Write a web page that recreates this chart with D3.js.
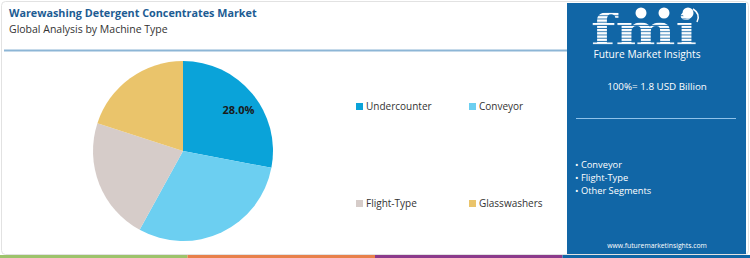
<!DOCTYPE html>
<html>
<head>
<meta charset="utf-8">
<script src="https://cdn.jsdelivr.net/npm/d3@7"></script>
<style>
  html, body { margin: 0; padding: 0; background: #fff; }
  svg { display: block; font-family: "Open Sans", sans-serif; }
</style>
</head>
<body>
<svg width="750" height="258"></svg>
<script>
// data
var segments = ['Undercounter', 'Conveyor', 'Flight-Type', 'Glasswashers'];
var shares = [28.0, 30.0, 22.0, 20.0];
var colors = ['#0aa3d9', '#6ccff1', '#d6ccc9', '#eac46b'];
var topSegments = ['Conveyor', 'Flight-Type', 'Other Segments'];
var marketSize = '100%= 1.8 USD Billion';

var svg = d3.select('svg');

// card + header
svg.append('rect').attr('x', 1.5).attr('y', 1.5).attr('width', 747).attr('height', 253)
  .attr('rx', 4).attr('fill', '#fff').attr('stroke', '#e2e2e2');

svg.append('text').attr('x', 9).attr('y', 17)
  .attr('font-size', 10.8).attr('font-weight', 700).attr('fill', '#1d5c93')
  .text('Warewashing Detergent Concentrates Market');
svg.append('text').attr('x', 9).attr('y', 33)
  .attr('font-size', 10.5).attr('fill', '#333')
  .text('Global Analysis by Machine Type');

svg.append('line').attr('x1', 4).attr('x2', 567).attr('y1', 50.5).attr('y2', 50.5)
  .attr('stroke', '#8db6d6').attr('stroke-width', 2);

// bottom stripe
var stripeColors = ['#9dc36b', '#e8804a', '#8b3a8b', '#1166a6'];
var sx = d3.scaleBand().domain(d3.range(4)).range([0, 750]);
svg.selectAll('rect.stripe').data(stripeColors).enter().append('rect')
  .attr('class', 'stripe')
  .attr('x', function(d, i) { return sx(i); })
  .attr('y', 255).attr('width', sx.bandwidth()).attr('height', 3)
  .attr('fill', function(d) { return d; });

// pie
var cx = 183, cy = 151, r = 90;
var pie = d3.pie().sort(null).value(function(d) { return d; });
var arc = d3.arc().innerRadius(0).outerRadius(r);
var labelArc = d3.arc().innerRadius(68).outerRadius(68);
var arcs = pie(shares);

var g = svg.append('g').attr('transform', 'translate(' + cx + ',' + cy + ')');
g.selectAll('path').data(arcs).enter().append('path')
  .attr('d', arc)
  .attr('fill', function(d, i) { return colors[i]; });

g.append('text')
  .attr('transform', 'translate(' + labelArc.centroid(arcs[0]) + ')')
  .attr('text-anchor', 'middle').attr('dx', 3).attr('dy', '0.6em')
  .attr('font-size', 11).attr('font-weight', 700).attr('fill', '#1a1a1a')
  .text(shares[0].toFixed(1) + '%');

// legend
var lx = d3.scaleOrdinal().domain([0, 1]).range([356, 469]);
var ly = d3.scaleOrdinal().domain([0, 1]).range([103, 200]);
var leg = svg.selectAll('g.leg').data(segments).enter().append('g')
  .attr('class', 'leg')
  .attr('transform', function(d, i) { return 'translate(' + lx(i % 2) + ',' + ly(Math.floor(i / 2)) + ')'; });
leg.append('rect').attr('width', 7).attr('height', 7)
  .attr('fill', function(d, i) { return colors[i]; });
leg.append('text').attr('x', 10).attr('y', 7.3)
  .attr('font-size', 10).attr('fill', '#333')
  .text(function(d) { return d; });

// right panel
var px = 567, pw = 179;
svg.append('rect').attr('x', px).attr('y', 3).attr('width', pw).attr('height', 251)
  .attr('fill', '#1166a6');

// logo: striped fmi letters
var defs = svg.append('defs');
var pat = defs.append('pattern').attr('id', 'stripes').attr('patternUnits', 'userSpaceOnUse')
  .attr('width', 4).attr('height', 3.2);
pat.append('rect').attr('width', 4).attr('height', 2.3).attr('fill', '#fff');
svg.append('text').attr('transform', 'translate(644,45) scale(1.35,1)')
  .attr('text-anchor', 'middle')
  .attr('font-family', 'DejaVu Serif').attr('font-weight', 700).attr('font-size', 42)
  .attr('fill', 'url(#stripes)')
  .text('fmi');
var icons = [641, 664, 688];
svg.selectAll('circle.icon').data(icons).enter().append('circle')
  .attr('class', 'icon').attr('cx', function(d) { return d; }).attr('cy', 13).attr('r', 5.5)
  .attr('fill', '#fff');
svg.append('path').attr('d', 'M693,9 Q701,14 697,22').attr('fill', 'none')
  .attr('stroke', '#fff').attr('stroke-width', 1.5);
svg.append('text').attr('x', 647).attr('y', 58).attr('text-anchor', 'middle')
  .attr('font-size', 10.2).attr('fill', '#fff')
  .text('Future Market Insights');

svg.append('text').attr('x', 657).attr('y', 90).attr('text-anchor', 'middle')
  .attr('font-size', 9.8).attr('fill', '#fff')
  .text(marketSize);
svg.append('line').attr('x1', 576).attr('x2', 736).attr('y1', 118.5).attr('y2', 118.5)
  .attr('stroke', '#8fc2ea').attr('stroke-width', 1.2);

svg.selectAll('text.bullet').data(topSegments).enter().append('text')
  .attr('class', 'bullet').attr('x', 575)
  .attr('y', function(d, i) { return 168 + i * 13; })
  .attr('font-size', 9.3).attr('fill', '#fff')
  .text(function(d) { return '\u2022 ' + d; });

svg.append('text').attr('x', 657).attr('y', 248).attr('text-anchor', 'middle')
  .attr('font-size', 6.8).attr('fill', '#fff')
  .text('www.futuremarketinsights.com');
</script>
</body>
</html>
